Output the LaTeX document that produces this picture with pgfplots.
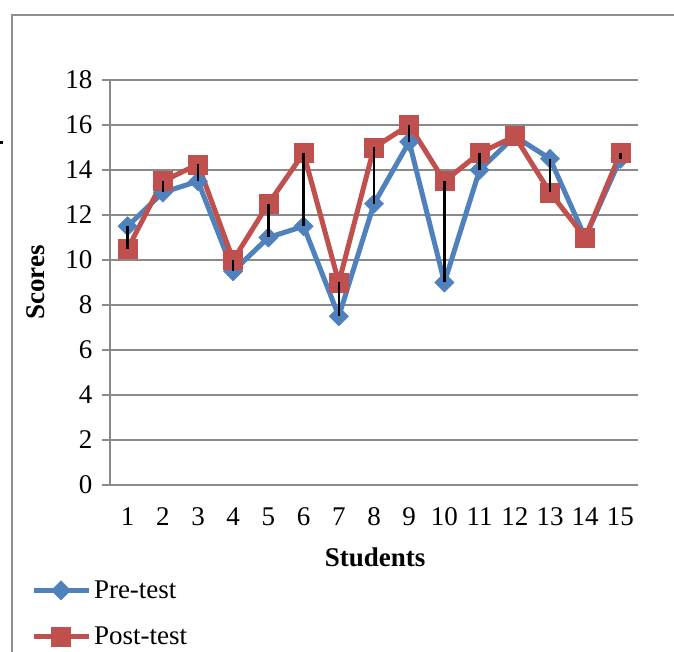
\documentclass[border=0pt]{standalone}
\usepackage{fontspec}
\setmainfont{Liberation Serif}
\usepackage{pgfplots}
\usepackage{pgfplotstable}
\pgfplotsset{compat=1.18}

\definecolor{preblue}{HTML}{4F81BD}
\definecolor{postred}{HTML}{C0504D}
\definecolor{gridgray}{HTML}{8A8A8A}
\definecolor{framegray}{HTML}{8E8E8E}

% Scores of the 15 students before and after the course
\pgfplotstableread{
student pre   post
1       11.5  10.5
2       13    13.5
3       13.5  14.25
4       9.5   10
5       11    12.5
6       11.5  14.75
7       7.5   9
8       12.5  15
9       15.25 16
10      9     13.5
11      14    14.75
12      15.5  15.5
13      14.5  13
14      11    11
15      14.5  14.75
}\scores
% lower end and length of the high-low line for each student
\pgfplotstablecreatecol[create col/expr={min(\thisrow{pre},\thisrow{post})}]{lo}\scores
\pgfplotstablecreatecol[create col/expr={abs(\thisrow{post}-\thisrow{pre})}]{span}\scores

\newcommand{\bigfont}{\fontsize{27bp}{31bp}\selectfont}

\begin{document}
\begin{tikzpicture}
% chart area border
\draw[framegray, line width=1.3bp] (-98bp,-200bp) -- (-98bp,470bp) -- (600bp,470bp);
\fill[black] (-110bp,341bp) rectangle (-107bp,344bp);

\begin{axis}[
  set layers,
  at={(0bp,0bp)}, anchor=south west,
  scale only axis, width=528bp, height=405bp,
  xmin=0.5, xmax=15.5, ymin=0, ymax=18,
  xtick={1,...,15}, ytick={0,2,...,18},
  axis lines=left,
  axis line style={-, gridgray, line width=1.3bp},
  ymajorgrids,
  grid style={gridgray, line width=1.3bp},
  tick align=outside,
  major tick length=8bp,
  xtick style={draw=none},
  ytick style={gridgray, line width=1.3bp},
  /pgf/number format/assume math mode=true,
  ticklabel style={font=\bigfont},
  yticklabel style={xshift=-6bp},
  xticklabel style={yshift=-11bp},
  xlabel={\textbf{Students}},
  ylabel={\textbf{Scores}},
  every axis x label/.style={at={(axis description cs:0.502,-0.178)}, anchor=center, font=\bigfont},
  every axis y label/.style={at={(axis description cs:-0.1402,0.5)}, rotate=90, anchor=center, font=\bigfont},
  legend style={draw=none, fill=none, at={(axis description cs:-0.150,-0.236)}, anchor=north west,
    font=\bigfont, inner sep=0pt, row sep=27bp, column sep=3bp,
    nodes={inner sep=0pt, anchor=west}},
  legend cell align=left,
  legend image code/.code={
    \draw[mark repeat=2, mark phase=2, #1] plot coordinates {(0bp,0bp) (27.5bp,0bp) (55bp,0bp)};
  },
  clip=false,
]
\addplot[preblue, line width=5bp, mark=square*, mark size=6.8bp,
  mark options={rotate=45, solid, fill=preblue, draw=preblue, line width=0.5bp}]
  table[x=student, y=pre] {\scores};
\addlegendentry{Pre-test}
\addplot[postred, line width=5bp, mark=square*, mark size=9.5bp,
  mark options={solid, fill=postred, draw=postred, line width=0.5bp}]
  table[x=student, y=post] {\scores};
\addlegendentry{Post-test}
% high-low lines joining the two scores of each student, above the markers
\addplot[on layer=axis foreground, black, mark=none, forget plot, draw opacity=0,
  error bars/.cd, y dir=plus, y explicit, error mark=none,
  error bar style={black, draw opacity=1, line width=2.4bp, solid}]
  table[x=student, y=lo, y error=span] {\scores};
\end{axis}

\pgfresetboundingbox
\path[use as bounding box] (-110bp,-167bp) rectangle (564bp,485bp);
\end{tikzpicture}
\end{document}
